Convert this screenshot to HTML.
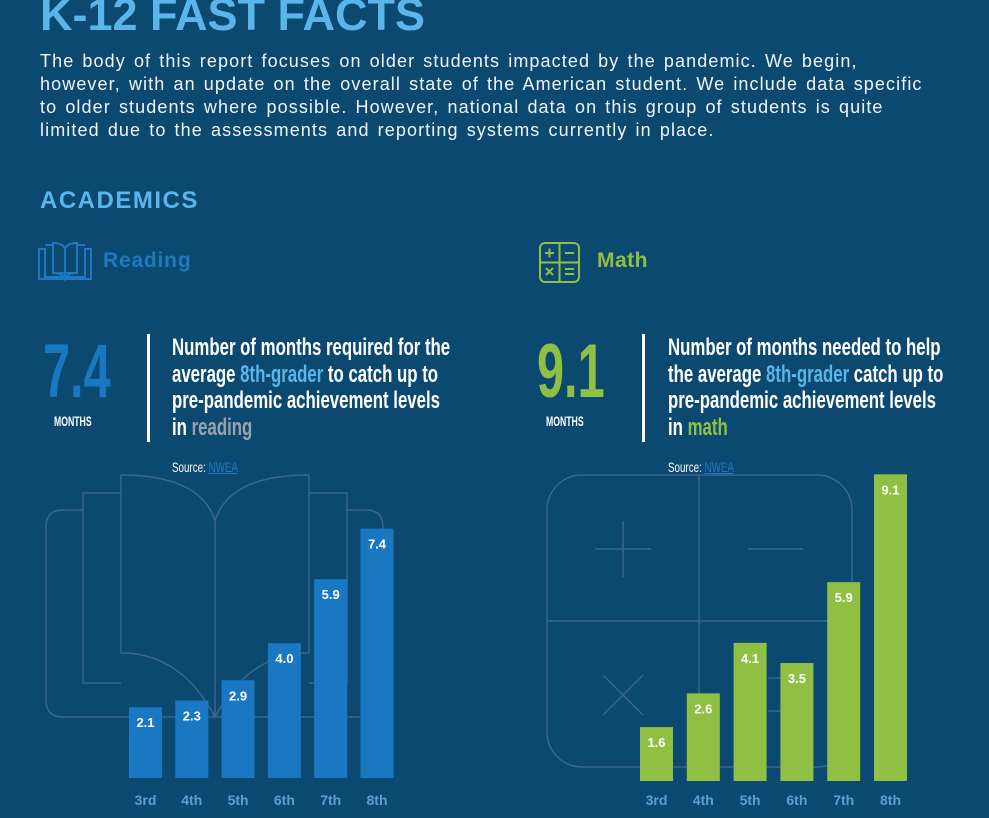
<!DOCTYPE html>
<html><head><meta charset="utf-8"><style>
body{margin:0;width:989px;height:818px;overflow:hidden;background:#0b4971;font-family:"Liberation Sans",sans-serif;position:relative;color:#fff}
.a{position:absolute;white-space:nowrap}
.t{font-weight:bold;color:#5bb5e9}
.cond{font-family:"Liberation Sans Narrow","Liberation Sans",sans-serif;font-weight:bold;transform-origin:0 0}
</style></head><body>
<div class="a t" style="left:40px;top:-11px;font-size:45px;letter-spacing:0px">K-12 FAST FACTS</div>
<div class="a" style="left:40px;top:50px;font-size:18px;line-height:23px;letter-spacing:1.1px;word-spacing:2px;color:#f0f4f8">The body of this report focuses on older students impacted by the pandemic. We begin,<br>however, with an update on the overall state of the American student. We include data specific<br>to older students where possible. However, national data on this group of students is quite<br>limited due to the assessments and reporting systems currently in place.</div>
<div class="a t" style="left:40px;top:187px;font-size:24px;letter-spacing:1.5px">ACADEMICS</div>

<svg class="a" style="left:37px;top:241px" width="56" height="42" viewBox="0 0 56 42" fill="none" stroke="#1f78c0" stroke-width="2"><path d="M2 8h6v28h40V8h6v30H2z"/><path d="M8 4h8v28h24V4h8"/><path d="M16 2q10 0 12 6q2-6 12-6v30q-10 0-12 6q-2-6-12-6z"/><path d="M28 8v30"/></svg>
<div class="a" style="left:103px;top:249px;font-size:21px;font-weight:bold;letter-spacing:0.8px;color:#1f78c0">Reading</div>
<svg class="a" style="left:539px;top:242px" width="41" height="41" viewBox="0 0 41 41" fill="none" stroke="#8fc043" stroke-width="2"><rect x="1" y="1" width="39" height="39" rx="5"/><path d="M20.5 1v39M1 20.5h39M6 11h9M10.5 6.5v9M26 11h9M7 26l7 7M14 26l-7 7M26 27h9M26 32h9"/></svg>
<div class="a" style="left:597px;top:249px;font-size:21px;font-weight:bold;letter-spacing:0.5px;color:#8fc043">Math</div>

<div class="a cond" style="left:43px;top:328px;font-size:76px;color:#1a78c2;transform:scaleX(0.64)">7.4</div>
<div class="a cond" style="left:54px;top:413px;font-size:14px;transform:scaleX(0.62)">MONTHS</div>
<div class="a" style="left:147px;top:334px;width:3px;height:108px;background:#fff"></div>
<div class="a cond" style="left:172px;top:335px;font-size:24px;line-height:26.7px;transform:scaleX(0.70)">Number of months required for the<br>average <span style="color:#5bb5e9">8th-grader</span> to catch up to<br>pre-pandemic achievement levels<br>in <span style="color:#9aa3ad">reading</span></div>
<div class="a cond" style="left:172px;top:459px;font-size:14px;font-weight:normal;transform:scaleX(0.7)">Source: <span style="color:#1f78c0;text-decoration:underline">NWEA</span></div>

<div class="a cond" style="left:537px;top:328px;font-size:76px;color:#8fc043;transform:scaleX(0.64)">9.1</div>
<div class="a cond" style="left:546px;top:413px;font-size:14px;transform:scaleX(0.62)">MONTHS</div>
<div class="a" style="left:642px;top:334px;width:3px;height:108px;background:#fff"></div>
<div class="a cond" style="left:668px;top:335px;font-size:24px;line-height:26.7px;transform:scaleX(0.70)">Number of months needed to help<br>the average <span style="color:#5bb5e9">8th-grader</span> catch up to<br>pre-pandemic achievement levels<br>in <span style="color:#8fc043">math</span></div>
<div class="a cond" style="left:668px;top:459px;font-size:14px;font-weight:normal;transform:scaleX(0.7)">Source: <span style="color:#1f78c0;text-decoration:underline">NWEA</span></div>

<svg class="a" id="chart" style="left:0;top:0" width="989" height="818">
<g fill="none" stroke="#3b6788" stroke-width="1.5">
<path d="M83 510h-20q-17 0-17 17v173q0 17 17 17h320v-190q0-17-17-17h-20"/>
<path d="M121 493h-38v190h38M309 493h38v190h-38"/>
<path d="M121 475v178q60 0 94 64q34-64 94-64v-178q-80 0-94 46q-14-46-94-46z"/>
<path d="M215 521v196"/>
</g>
<g fill="none" stroke="#3b6788" stroke-width="1.5">
<rect x="547" y="475" width="305" height="292" rx="35"/>
<path d="M699 475v292M547 621h305M595 549h56M623 521v56M748 549h55M603 675l40 40M643 675l-40 40M768 678h20M768 711h20"/>
</g>
<g id="reading-bars"></g><g id="math-bars"></g>
</svg>
<script>
const readingCats=["3rd","4th","5th","6th","7th","8th"];
const readingVals=[2.1,2.3,2.9,4.0,5.9,7.4];
const mathCats=["3rd","4th","5th","6th","7th","8th"];
const mathVals=[1.6,2.6,4.1,3.5,5.9,9.1];
const NS="http://www.w3.org/2000/svg";
const yScale=v=>v*33.7;
function draw(gid,cats,vals,x0,step,base,color){
  const g=document.getElementById(gid);
  cats.forEach((c,i)=>{
    const x=x0+i*step,h=yScale(vals[i]);
    const r=document.createElementNS(NS,"rect");
    
    
    r.setAttribute("x",x);r.setAttribute("y",base-h);r.setAttribute("width",33);r.setAttribute("height",h);r.setAttribute("fill",color);
    g.appendChild(r);
    const t=document.createElementNS(NS,"text");
    
    
    t.setAttribute("x",x+16.5);t.setAttribute("y",base-h+20);t.setAttribute("text-anchor","middle");
    t.setAttribute("fill","#fff");t.setAttribute("font-size","13");t.setAttribute("font-weight","bold");t.setAttribute("font-family","Liberation Sans");
    t.textContent=vals[i].toFixed(1);g.appendChild(t);
    const l=document.createElementNS(NS,"text");
    
    
    l.setAttribute("x",x+16.5);l.setAttribute("y",805);l.setAttribute("text-anchor","middle");
    l.setAttribute("fill","#5b9fd6");l.setAttribute("font-size","14");l.setAttribute("font-weight","bold");l.setAttribute("font-family","Liberation Sans");
    l.textContent=c;g.appendChild(l);
  });
}
draw("reading-bars",readingCats,readingVals,129,46.3,778,"#1a78c2");
draw("math-bars",mathCats,mathVals,640,46.8,781,"#8fc043");
</script>
</body></html>
